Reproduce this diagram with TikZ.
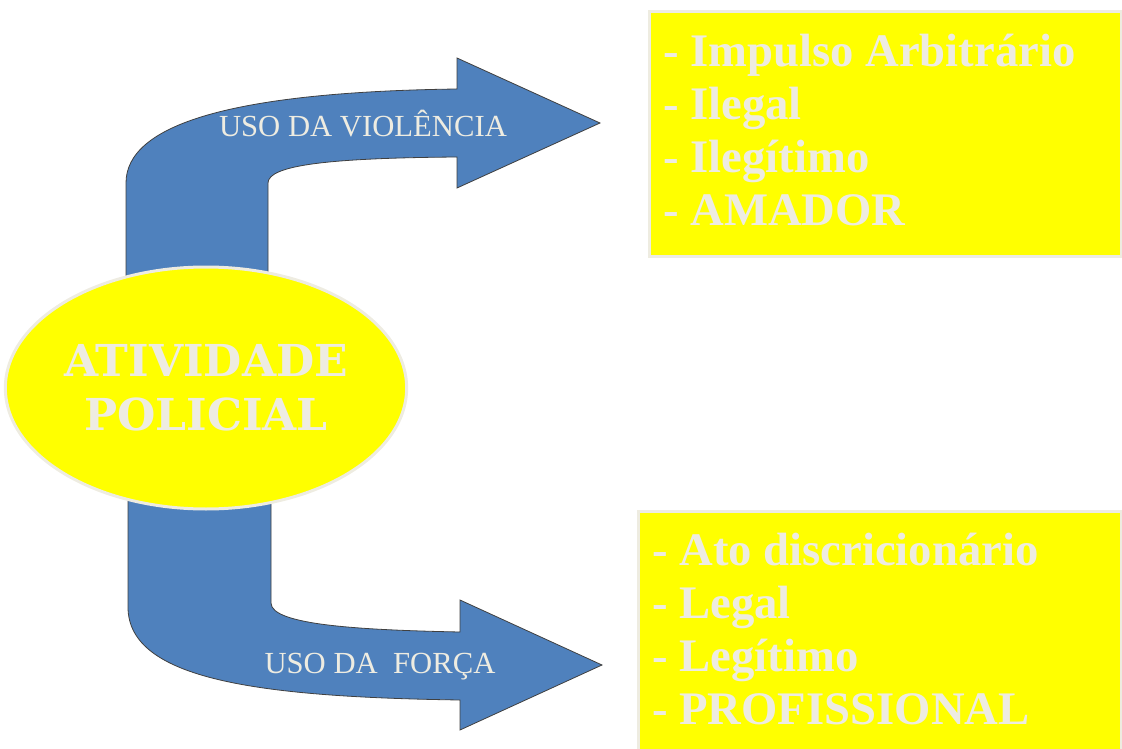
\documentclass[tikz,border=0pt]{standalone}
\usepackage{fontspec}
\setmainfont{Liberation Serif}
\newfontfamily\serifdeja{DejaVu Serif}
\usepackage{tikz}
\usetikzlibrary{shapes.geometric}

\definecolor{azulseta}{HTML}{4F81BD}
\definecolor{amarelo}{HTML}{FFFF00}
\definecolor{quasebranco}{HTML}{EEECE1}

\begin{document}
\begin{tikzpicture}[x=0.75pt,y=-0.75pt,
	seta/.style={fill=azulseta,draw=black!75,line width=0.6pt},
	rotulo/.style={anchor=base,inner sep=0pt,text=quasebranco,font=\fontsize{23pt}{27pt}\selectfont},
	elipse/.style={ellipse,fill=amarelo,draw=quasebranco,line width=2.25pt,inner sep=0pt,minimum width=295.5pt,minimum height=181.5pt,align=center,text=quasebranco,font=\serifdeja\bfseries\fontsize{33pt}{40.5pt}\selectfont},
	caixa/.style={rectangle,fill=amarelo,draw=quasebranco,line width=2.25pt,anchor=north west},
	lista/.style={anchor=base west,inner sep=0pt,text=quasebranco,font=\bfseries\fontsize{35pt}{39.75pt}\selectfont}]
	\useasboundingbox (0,0) rectangle (1122,749);
	% setas
	\draw [seta] (126,300) -- (126,183) .. controls (126,125) and (230,92) .. (457,89) -- (457,58) -- (600,123) -- (457,188) -- (457,157) .. controls (330,158) and (268,165) .. (268,183) -- (268,300) -- cycle;
	\draw [seta] (128,470) -- (128,607) .. controls (128,680) and (260,697) .. (460,700) -- (460,730) -- (602,665) -- (460,600) -- (460,632) .. controls (360,630) and (271,625) .. (271,603) -- (271,470) -- cycle;
	\node (violencia) [rotulo] at (363,137) {USO DA VIOLÊNCIA};
	\node (forca) [rotulo] at (380,673) {USO DA~ FORÇA};
	% centro
	\node (ativ) [elipse] at (206,388) {ATIVIDADE\\POLICIAL};
	% caixas
	\node (amador) [caixa,minimum width=354pt,minimum height=183.75pt] at (648,10) {};
	\node (amadortxt) [lista] at (663,67) {
	\begin{tabular}[t]{@{}l@{}}
		- Impulso Arbitrário \\
		- Ilegal \\
		- Ilegítimo \\
		- AMADOR
	\end{tabular}
	};
	\node (profissional) [caixa,minimum width=362.25pt,minimum height=180pt] at (637,510) {};
	\node (profissionaltxt) [lista] at (652,565) {
	\begin{tabular}[t]{@{}l@{}}
		- Ato discricionário \\
		- Legal \\
		- Legítimo \\
		- PROFISSIONAL
	\end{tabular}
	};
\end{tikzpicture}
\end{document}
